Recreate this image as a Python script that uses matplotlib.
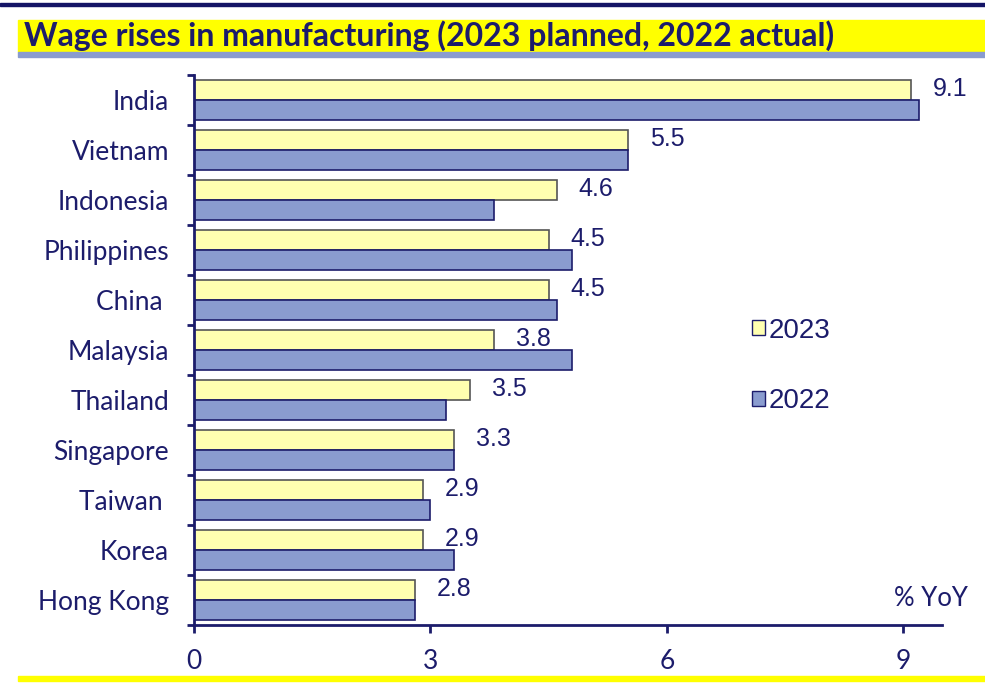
import numpy as np
import matplotlib.pyplot as plt
from matplotlib.patches import Rectangle, Patch

# data
countries = ['India', 'Vietnam', 'Indonesia', 'Philippines', 'China ', 'Malaysia',
             'Thailand', 'Singapore', 'Taiwan ', 'Korea', 'Hong Kong']
wage_2023 = [9.1, 5.5, 4.6, 4.5, 4.5, 3.8, 3.5, 3.3, 2.9, 2.9, 2.8]
wage_2022 = [9.2, 5.5, 3.8, 4.8, 4.6, 4.8, 3.2, 3.3, 3.0, 3.3, 2.8]
xticks = [0, 3, 6, 9]

navy = '#1c1c6b'
yellow_bar = '#ffffb0'
blue_bar = '#8a9ccf'
cal = 'Lato'
arial = 'Liberation Sans'

fig = plt.figure(figsize=(9.85, 6.84), dpi=100)

# title band
fig.patches.append(Rectangle((0, 1 - 6/684), 1, 3/684, transform=fig.transFigure,
                             color='#141466', zorder=0))
fig.patches.append(Rectangle((18/985, 1 - 52/684), 1, 32/684, transform=fig.transFigure,
                             color='#ffff00', zorder=0))
fig.patches.append(Rectangle((18/985, 1 - 57/684), 1, 5/684, transform=fig.transFigure,
                             color='#8a9ccf', zorder=0))
fig.patches.append(Rectangle((18/985, 1 - 681/684), 1, 5/684, transform=fig.transFigure,
                             color='#ffff00', zorder=0))
fig.text(24/985, 1 - 36/684, 'Wage rises in manufacturing (2023 planned, 2022 actual)',
         fontsize=23, fontweight='bold', color=navy, family=cal, va='center')

ax = fig.add_axes([194/985, 1 - 625/684, (942 - 194)/985, (625 - 75)/684])

n = len(countries)
y = np.arange(n)[::-1]
h = 0.4
ax.barh(y + h/2, wage_2023, height=h, color=yellow_bar, edgecolor='#555555', linewidth=1.2)
ax.barh(y - h/2, wage_2022, height=h, color=blue_bar, edgecolor=navy, linewidth=1.2)

for yi, v in zip(y, wage_2023):
    ax.text(v + 0.28, yi + h/2 + 0.02, f'{v:.1f}', fontsize=18, color=navy, family=arial,
            va='center', ha='left')

ax.set_xlim(0, 9.49)
ax.set_ylim(-0.5, n - 0.5)
ax.set_yticks(np.arange(-0.5, n, 1))
ax.set_yticklabels([])
ax.set_yticks(y, countries, minor=True)
ax.tick_params(axis='y', which='minor', length=0, pad=18, labelsize=19, labelcolor=navy)
ax.tick_params(axis='y', which='major', length=5, width=2, color=navy)
for lbl in ax.get_yticklabels(minor=True):
    lbl.set_family(cal)
ax.set_xticks(xticks)
ax.tick_params(axis='x', length=6, width=2, color=navy, labelsize=19, labelcolor=navy, pad=11)
for lbl in ax.get_xticklabels():
    lbl.set_family(cal)

for s in ['top', 'right']:
    ax.spines[s].set_visible(False)
for s in ['left', 'bottom']:
    ax.spines[s].set_color(navy)
    ax.spines[s].set_linewidth(2)

fig.text(968/985, 1 - 598/684, '% YoY', fontsize=18.5,
         color=navy, family=cal, ha='right', va='center')

handles = [Patch(facecolor=yellow_bar, edgecolor=navy), Patch(facecolor=blue_bar, edgecolor=navy)]
leg = fig.legend(handles, ['2023', '2022'], loc='center left',
                 bbox_to_anchor=(727/985, 1 - 366/684), frameon=False,
                 prop={'family': arial, 'size': 20},
                 handlelength=0.45, handleheight=0.45, handletextpad=0.15, labelspacing=1.6)
for t in leg.get_texts():
    t.set_color(navy)

fig.savefig('out.png', dpi=100)
